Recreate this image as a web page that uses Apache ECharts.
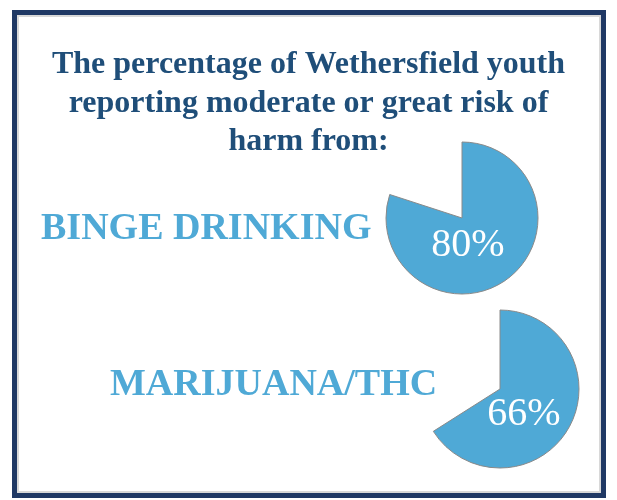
<!DOCTYPE html>
<html>
<head>
<meta charset="utf-8">
<script src="https://cdn.jsdelivr.net/npm/echarts@6/dist/echarts.min.js"></script>
<style>
html,body{margin:0;padding:0;background:#fff;}
#chart{width:617px;height:500px;}
</style>
</head>
<body>
<div id="chart"></div>
<script>
const titleLines = ["The percentage of Wethersfield youth", "reporting moderate or great risk of", "harm from:"];
const categories = ["BINGE DRINKING", "MARIJUANA/THC"];
const values = [80, 66];

const chart = echarts.init(document.getElementById('chart'), null, {renderer: 'canvas'});
const serif = '"Liberation Serif", "DejaVu Serif", serif';
const fill = '#4FA9D6';

function pieSeries(val, center, radius) {
  return {
    type: 'pie',
    center: center,
    radius: radius,
    startAngle: 90,
    clockwise: true,
    silent: true,
    animation: false,
    label: {show: false},
    labelLine: {show: false},
    data: [
      {value: val, itemStyle: {color: fill, borderColor: '#8a8a8a', borderWidth: 1}},
      {value: 100 - val, itemStyle: {color: 'rgba(0,0,0,0)', borderWidth: 0}}
    ]
  };
}

const titleTops = [45, 84, 122];
const titles = titleLines.map((t, i) => ({
  text: t, left: 'center', top: titleTops[i], padding: 0,
  textStyle: {fontFamily: serif, fontWeight: 'bold', fontSize: 32, lineHeight: 40, color: '#1F4E79'}
}));
titles.push({text: categories[0], left: 41, top: 210, padding: 0,
  textStyle: {fontFamily: serif, fontWeight: 'bold', fontSize: 38, color: fill}});
titles.push({text: categories[1], left: 110, top: 366, padding: 0,
  textStyle: {fontFamily: serif, fontWeight: 'bold', fontSize: 38, color: fill}});

chart.setOption({
  backgroundColor: '#fff',
  graphic: [
    {type: 'rect', shape: {x: 17, y: 15, width: 584, height: 478}, style: {fill: 'none', stroke: '#d8d8d8', lineWidth: 4}, silent: true},
    {type: 'rect', shape: {x: 14.5, y: 12.5, width: 589, height: 483}, style: {fill: 'none', stroke: '#1F3864', lineWidth: 5}, silent: true},
    {type: 'text', x: 468, y: 245, z: 100, silent: true,
     style: {text: values[0] + '%', fill: '#fff', font: '40px ' + serif, textAlign: 'center', textVerticalAlign: 'middle'}},
    {type: 'text', x: 524, y: 414, z: 100, silent: true,
     style: {text: values[1] + '%', fill: '#fff', font: '40px ' + serif, textAlign: 'center', textVerticalAlign: 'middle'}}
  ],
  title: titles,
  series: [
    pieSeries(values[0], [462, 218], 76),
    pieSeries(values[1], [500, 389], 79)
  ]
});
</script>
</body>
</html>
